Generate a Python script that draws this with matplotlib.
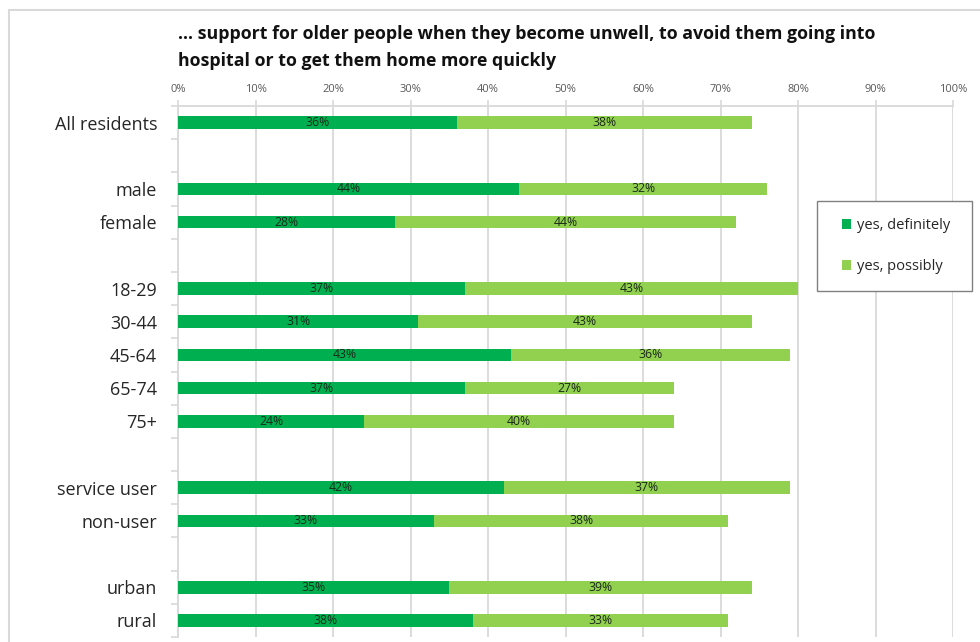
import matplotlib
matplotlib.use("Agg")
import matplotlib.pyplot as plt
from matplotlib.patches import Patch, Rectangle
import numpy as np

plt.rcParams['font.family'] = ['Open Sans', 'DejaVu Sans']

categories = ["All residents", "male", "female", "18-29", "30-44", "45-64",
              "65-74", "75+", "service user", "non-user", "urban", "rural"]
row_slots = [0, 2, 3, 5, 6, 7, 8, 9, 11, 12, 14, 15]
definitely = [36, 44, 28, 37, 31, 43, 37, 24, 42, 33, 35, 38]
possibly = [38, 32, 44, 43, 43, 36, 27, 40, 37, 38, 39, 33]
series_names = ["yes, definitely", "yes, possibly"]
tick_values = list(range(0, 101, 10))
tick_labels = [f"{v}%" for v in tick_values]
title = ("... support for older people when they become unwell, to avoid them going into\n"
         "hospital or to get them home more quickly")

dark_green = "#00B050"
light_green = "#92D050"
grid_grey = "#d9d9d9"

W, H = 980, 642
fig = plt.figure(figsize=(W / 100, H / 100), dpi=100)
fig.patch.set_facecolor("white")

# outer chart frame
fig.patches.append(Rectangle((9 / W, -0.2), 1.2, 1 - 10 / H + 0.2,
                             transform=fig.transFigure, fill=False,
                             edgecolor=grid_grey, linewidth=1.5))

ax = fig.add_axes([178 / W, 5 / H, (953 - 178) / W, (637 - 106) / H])
ax.set_xlim(0, 100)
ax.set_ylim(15.5, -0.5)

y = np.array(row_slots)
bh = 0.38
ax.barh(y, definitely, height=bh, color=dark_green, zorder=3)
ax.barh(y, possibly, left=definitely, height=bh, color=light_green, zorder=3)

for yi, d, p in zip(y, definitely, possibly):
    ax.text(d / 2, yi, f"{d}%", ha="center", va="center", fontsize=8.8,
            color="#1a2a1a", zorder=4)
    ax.text(d + p / 2, yi, f"{p}%", ha="center", va="center", fontsize=8.8,
            color="#1a2a1a", zorder=4)

# x axis on top
ax.xaxis.tick_top()
ax.set_xticks(tick_values)
ax.set_xticklabels(tick_labels, fontsize=8, color="#595959")
ax.tick_params(axis="x", length=4, color=grid_grey, width=1.2, pad=4)
ax.grid(axis="x", color=grid_grey, linewidth=1.3, zorder=0)

# y axis labels with boundary ticks
ax.set_yticks(y)
ax.set_yticklabels(categories, fontsize=13, color="#262626")
ax.tick_params(axis="y", which="major", length=0, pad=15)
ax.set_yticks(np.arange(-0.5, 16, 1), minor=True)
ax.tick_params(axis="y", which="minor", length=5, color=grid_grey, width=1.2)

for s in ["right", "bottom"]:
    ax.spines[s].set_visible(False)
for s in ["left", "top"]:
    ax.spines[s].set_color(grid_grey)
    ax.spines[s].set_linewidth(1.3)

fig.text(178 / W, 1 - 25 / H, title, ha="left", va="top", fontsize=12.8,
         fontweight="bold", color="#111111", linespacing=1.65)

# legend box and entries
fig.patches.append(Rectangle((817 / W, 1 - 291 / H), (972 - 817) / W, 90 / H,
                             transform=fig.transFigure, facecolor="white",
                             edgecolor="#808080", linewidth=1.0, zorder=5))
handles = [Patch(facecolor=dark_green), Patch(facecolor=light_green)]
leg = fig.legend(handles, series_names, loc="center left",
                 bbox_to_anchor=(842 / W, 1 - 246 / H), fontsize=10.5,
                 frameon=False, handlelength=0.65, handleheight=0.65,
                 handletextpad=0.35, labelspacing=1.75, borderpad=0,
                 borderaxespad=0)
leg.set_zorder(6)
for t in leg.get_texts():
    t.set_color("#262626")

fig.savefig("out.png", dpi=100)
